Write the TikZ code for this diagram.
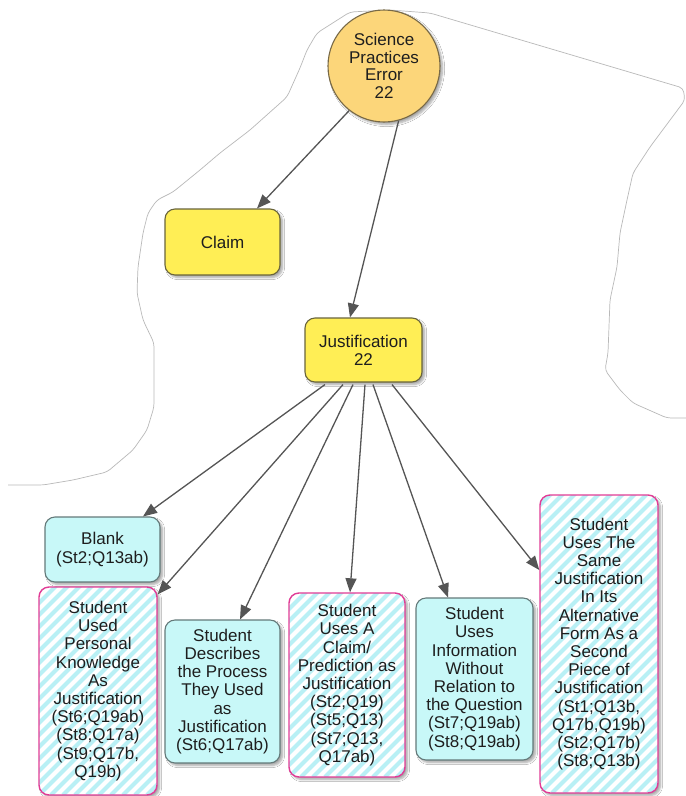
\documentclass[tikz,border=0pt]{standalone}
\usepackage{fontspec}
\setmainfont{Liberation Sans}
\usetikzlibrary{shadows.blur,arrows.meta,calc}

\definecolor{circfill}{RGB}{252,214,122}
\definecolor{circline}{RGB}{120,105,70}
\definecolor{yfill}{RGB}{255,238,85}
\definecolor{yline}{RGB}{105,100,60}
\definecolor{cfill}{RGB}{200,248,248}
\definecolor{cline}{RGB}{100,122,122}
\definecolor{mline}{RGB}{225,60,150}
\definecolor{stripecol}{RGB}{185,240,245}
\definecolor{arrowc}{RGB}{85,85,85}
\definecolor{outlinec}{RGB}{185,185,185}
\definecolor{txt}{RGB}{30,30,30}

\tikzset{
  softshadow/.style={blur shadow={shadow xshift=2.5pt, shadow yshift=-2.5pt,
      shadow blur steps=6, shadow opacity=35}},
  box/.style={rounded corners=10pt, draw, line width=1.1pt, align=center,
      inner sep=0pt, font=\fontsize{17}{18.2}\selectfont, text=txt, softshadow},
  ybox/.style={box, fill=yfill, draw=yline},
  cbox/.style={box, fill=cfill, draw=cline},
  sbox/.style={box, fill=white, draw=mline, line width=1.4pt,
      path picture={
        \foreach \k in {-30,...,20}
          \draw[stripecol, line width=4pt]
            ($(path picture bounding box.south west)+(\k*12,0)$) -- ++(400,-400);
      }},
  arr/.style={draw=arrowc, line width=1.3pt, -{Triangle[length=14pt,width=11pt]}},
}

\begin{document}
\begin{tikzpicture}[x=1pt,y=-1pt]
\useasboundingbox (0,0) rectangle (686,796);
\fill[white] (0,0) rectangle (686,796);

% free-hand grey outline
\draw[outlinec, line width=0.7pt, rounded corners=4pt]
  (8,485) -- (43,485) -- (73,480) -- (107,472) -- (133,450) -- (147,430)
  -- (154,407) -- (154,343) -- (143,320) -- (137,293) -- (138,267) -- (143,233)
  -- (148,213) -- (157,200) -- (173,192) -- (200,170) -- (220,153) -- (250,130)
  -- (287,97) -- (300,68) -- (307,50) -- (317,33) -- (350,12) -- (390,10)
  -- (430,13) -- (683,88) -- (685,100) -- (650,147) -- (633,173) -- (627,200)
  -- (620,233) -- (617,267) -- (610,300) -- (608,353) -- (605,370) -- (620,390)
  -- (633,403) -- (667,418) -- (686,418);

% concepts
\node[circle, draw=circline, fill=circfill, line width=1.1pt, minimum size=112pt,
      inner sep=0pt, align=center, text=txt, font=\fontsize{17}{17.6}\selectfont,
      softshadow] (sci) at (384,66) {Science\\Practices\\Error\\22};

\node[ybox, minimum width=115pt, minimum height=66pt] (claim) at (222.5,242) {Claim};
\node[ybox, minimum width=117pt, minimum height=64pt] (just) at (363.5,350) {Justification\\22};

\node[cbox, minimum width=115pt, minimum height=65pt] (blank) at (102.5,549.5)
  {Blank\\(St2;Q13ab)};
\node[sbox, minimum width=118pt, minimum height=208pt] (pers) at (98,691)
  {Student\\Used\\Personal\\Knowledge\\As\\Justification\\(St6;Q19ab)\\(St8;Q17a)\\(St9;Q17b,\\Q19b)};
\node[cbox, minimum width=115pt, minimum height=143pt] (desc) at (222.5,691.5)
  {Student\\Describes\\the Process\\They Used\\as\\Justification\\(St6;Q17ab)};
\node[sbox, minimum width=116pt, minimum height=184pt] (cp) at (347,685)
  {Student\\Uses A\\Claim/\\Prediction as\\Justification\\(St2;Q19)\\(St5;Q13)\\(St7;Q13,\\Q17ab)};
\node[cbox, minimum width=117pt, minimum height=162pt] (info) at (474.5,679)
  {Student\\Uses\\Information\\Without\\Relation to\\the Question\\(St7;Q19ab)\\(St8;Q19ab)};
\node[sbox, minimum width=118pt, minimum height=298pt] (same) at (599,644)
  {Student\\Uses The\\Same\\Justification\\In Its\\Alternative\\Form As a\\Second\\Piece of\\Justification\\(St1;Q13b,\\Q17b,Q19b)\\(St2;Q17b)\\(St8;Q13b)};

% links
\draw[arr] (sci.232) -- ($(claim.north)+(34.5,0)$);
\draw[arr] (sci.285) -- ($(just.north)+(-13.5,0)$);

\draw[arr] ($(just.south)+(-38.5,2)$) -- ($(blank.north)+(40.5,0)$);
\draw[arr] ($(just.south)+(-20.5,2)$) -- ($(pers.north east)+(0,8)$);
\draw[arr] ($(just.south)+(-10.5,2)$) -- ($(desc.north)+(17.5,0)$);
\draw[arr] ($(just.south)+(1.5,2)$) -- ($(cp.north)+(3,0)$);
\draw[arr] ($(just.south)+(9.5,2)$) -- ($(info.north)+(-26.5,0)$);
\draw[arr] ($(just.south)+(28.5,2)$) -- ($(same.west)+(0,-74)$);
\end{tikzpicture}
\end{document}
